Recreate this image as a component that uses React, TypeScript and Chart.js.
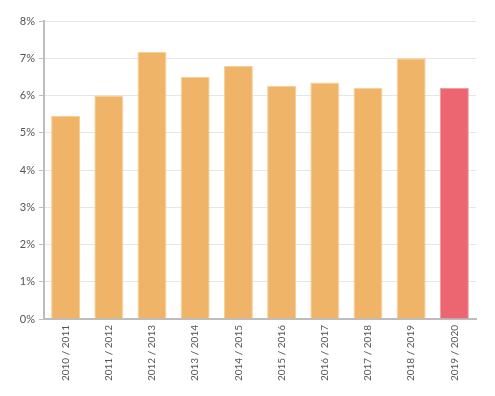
import React, { useEffect, useRef } from "react";
import { Chart, registerables } from "chart.js";

Chart.register(...registerables);

const categories = [
  "2010 / 2011",
  "2011 / 2012",
  "2012 / 2013",
  "2013 / 2014",
  "2014 / 2015",
  "2015 / 2016",
  "2016 / 2017",
  "2017 / 2018",
  "2018 / 2019",
  "2019 / 2020",
];
const values = [5.45, 6.0, 7.17, 6.5, 6.79, 6.26, 6.35, 6.21, 7.0, 6.2];
const barColors = [
  "#F0B468", "#F0B468", "#F0B468", "#F0B468", "#F0B468",
  "#F0B468", "#F0B468", "#F0B468", "#F0B468", "#EB6670",
];
const borderColors = [
  "#F7CF97", "#F7CF97", "#F7CF97", "#F7CF97", "#F7CF97",
  "#F7CF97", "#F7CF97", "#F7CF97", "#F7CF97", "#F39BA2",
];
const yTicks = [0, 1, 2, 3, 4, 5, 6, 7, 8];

export default function App() {
  const ref = useRef<HTMLCanvasElement | null>(null);
  useEffect(() => {
    if (!ref.current) return;
    const chart = new Chart(ref.current, {
      type: "bar",
      data: {
        labels: categories,
        datasets: [
          {
            data: values,
            backgroundColor: barColors,
            borderColor: borderColors,
            borderWidth: 1,
            categoryPercentage: 0.67,
            barPercentage: 1,
          },
        ],
      },
      options: {
        animation: false,
        responsive: false,
        maintainAspectRatio: false,
        layout: { padding: { left: 0, right: 19, top: 21, bottom: 0 } },
        plugins: { legend: { display: false }, tooltip: { enabled: false } },
        scales: {
          x: {
            grid: { display: false, drawTicks: false },
            border: { display: true, color: "#BDBDBD", width: 2 },
            ticks: {
              color: "#555555",
              font: { family: "Lato", size: 10 },
              maxRotation: 90,
              minRotation: 90,
              padding: 6,
            },
            afterFit: (s: any) => {
              s.height = 396 - 319;
            },
          },
          y: {
            min: 0,
            max: 8,
            afterBuildTicks: (s: any) => {
              s.ticks = yTicks.map((v) => ({ value: v }));
            },
            grid: {
              color: "#E6E6E6",
              lineWidth: 1,
              tickLength: 5,
              tickColor: "#BDBDBD",
            },
            border: { display: true, color: "#BDBDBD", width: 2 },
            ticks: {
              color: "#555555",
              font: { family: "Lato", size: 11 },
              padding: 4,
              callback: (v: any) => v + "%",
            },
            afterFit: (s: any) => {
              s.width = 44;
            },
          },
        },
      },
    });
    return () => chart.destroy();
  }, []);
  return (
    <div style={{ position: "fixed", left: 0, top: 0, width: 495, height: 396, background: "#fff" }}>
      <canvas ref={ref} width={495} height={396} />
    </div>
  );
}
